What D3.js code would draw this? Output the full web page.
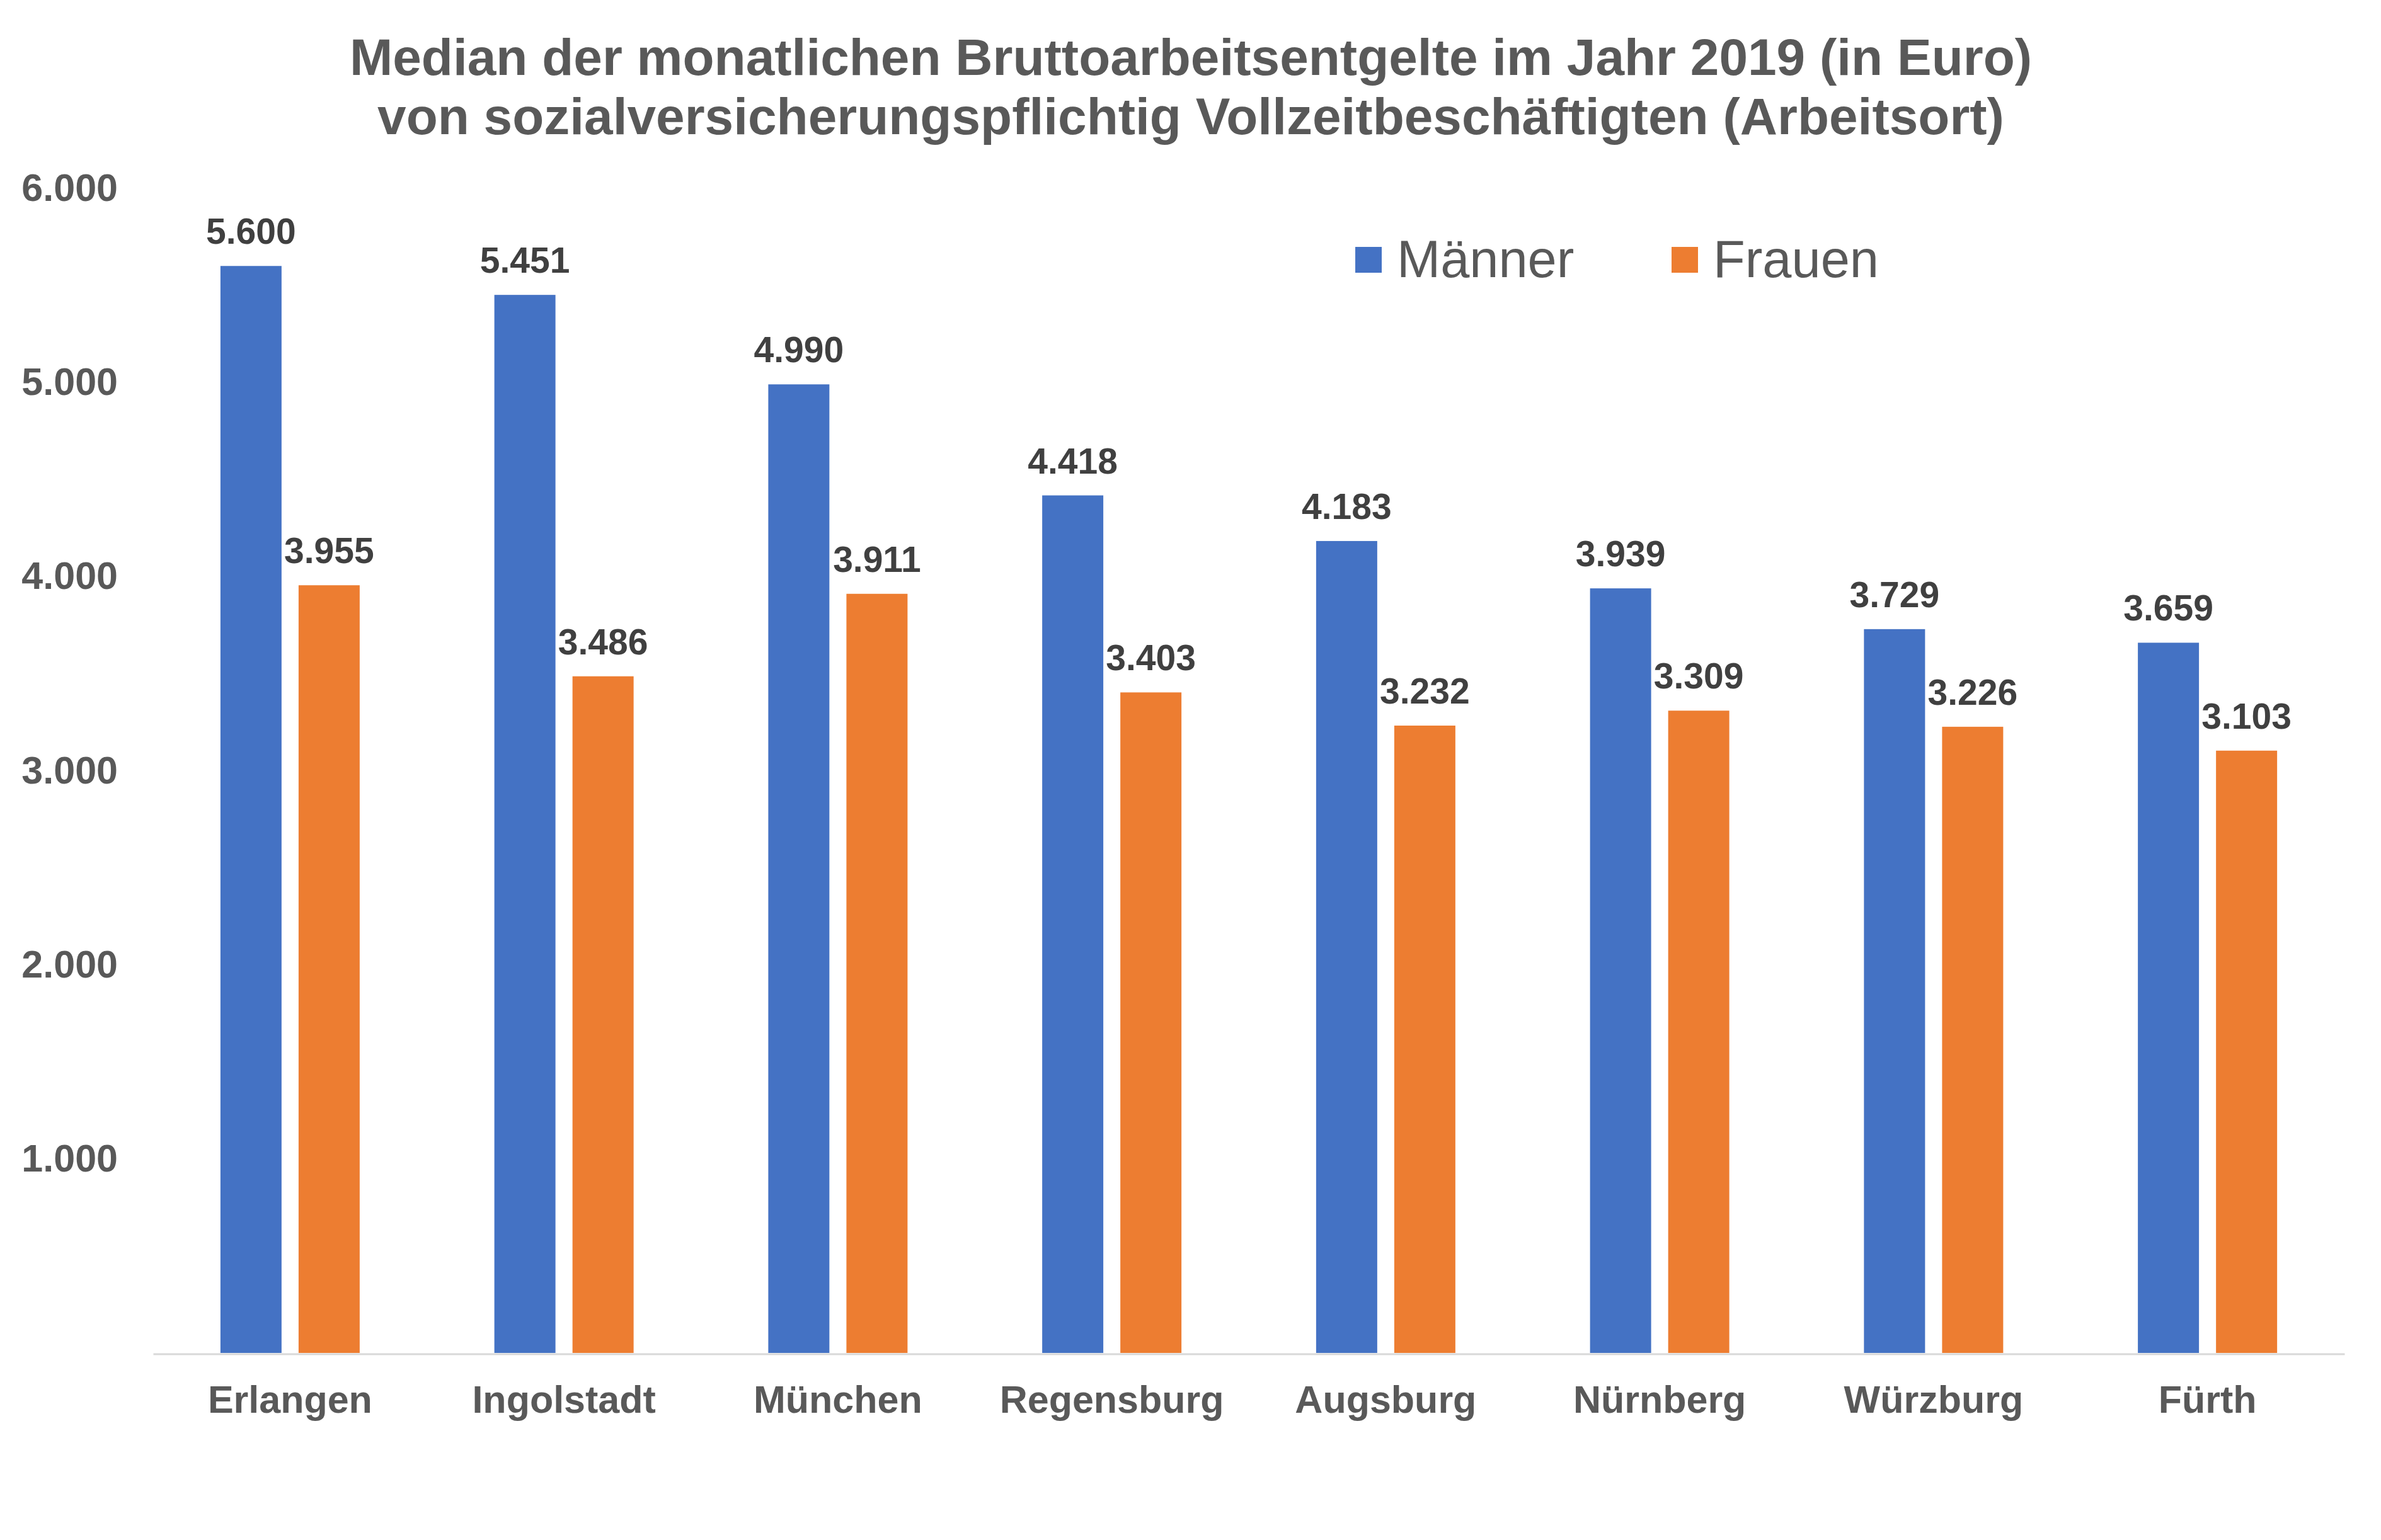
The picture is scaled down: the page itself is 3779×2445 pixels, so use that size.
<!DOCTYPE html>
<html>
<head>
<meta charset="utf-8">
<script src="https://cdn.jsdelivr.net/npm/d3@7"></script>
<style>
  body { margin: 0; background: #fff; }
  text { font-family: "Liberation Sans", Arial, sans-serif; }
</style>
</head>
<body>
<div id="chart"></div>
<script>
// Data
const cities = ['Erlangen', 'Ingolstadt', 'München', 'Regensburg', 'Augsburg', 'Nürnberg', 'Würzburg', 'Fürth'];
const maenner = [5600, 5451, 4990, 4418, 4183, 3939, 3729, 3659];
const frauen = [3955, 3486, 3911, 3403, 3232, 3309, 3226, 3103];
const seriesNames = ['Männer', 'Frauen'];
const yTicks = [1000, 2000, 3000, 4000, 5000, 6000];
const titleLines = [
  'Median der monatlichen Bruttoarbeitsentgelte im Jahr 2019 (in Euro)',
  'von sozialversicherungspflichtig Vollzeitbeschäftigten (Arbeitsort)'
];

const width = 3779;
const height = 2445;
const colors = ['#4472C4', '#ED7D31'];
const textGrey = '#595959';

// German number format: 5.600
const de = d3.formatLocale({ decimal: ',', thousands: '.', grouping: [3], currency: ['', ' €'] });
const fmt = de.format(',d');

const svg = d3.select('#chart')
  .append('svg')
  .attr('width', width)
  .attr('height', height);

// scales
const x0 = d3.scaleBand().domain(cities).range([243, 3721]).padding(0);
const groupW = 221;
const x1 = d3.scaleBand().domain(seriesNames).range([0, groupW]).paddingInner(0.218).paddingOuter(0);
const y = d3.scaleLinear().domain([0, 6000]).range([2148, 299]);

// title
svg.append('g')
  .selectAll('text')
  .data(titleLines)
  .join('text')
  .attr('x', 1890)
  .attr('y', (d, i) => 119 + i * 94)
  .attr('text-anchor', 'middle')
  .attr('font-size', 82)
  .attr('font-weight', 'bold')
  .attr('fill', textGrey)
  .text(d => d);

// y axis (labels only)
const yAxis = svg.append('g')
  .attr('transform', 'translate(243,0)')
  .call(d3.axisLeft(y).tickValues(yTicks).tickFormat(fmt).tickSize(0).tickPadding(56));
yAxis.select('.domain').remove();
yAxis.selectAll('text')
  .attr('font-size', 61)
  .attr('font-weight', 'bold')
  .attr('fill', textGrey)
  .attr('font-family', '"Liberation Sans", Arial, sans-serif');

// bars
const rows = cities.map((c, i) => ({ city: c, values: [maenner[i], frauen[i]] }));
const groups = svg.append('g')
  .selectAll('g')
  .data(rows)
  .join('g')
  .attr('transform', d => `translate(${x0(d.city) + (x0.bandwidth() - groupW) / 2},0)`);

groups.selectAll('rect')
  .data(d => d.values.map((v, k) => ({ key: seriesNames[k], value: v, k: k })))
  .join('rect')
  .attr('x', d => x1(d.key))
  .attr('y', d => y(d.value))
  .attr('width', x1.bandwidth())
  .attr('height', d => y(0) - y(d.value))
  .attr('fill', d => colors[d.k]);

// data labels
groups.selectAll('text')
  .data(d => d.values.map((v, k) => ({ key: seriesNames[k], value: v })))
  .join('text')
  .attr('x', d => x1(d.key) + x1.bandwidth() / 2)
  .attr('y', d => y(d.value) - 35)
  .attr('text-anchor', 'middle')
  .attr('font-size', 57)
  .attr('font-weight', 'bold')
  .attr('fill', '#404040')
  .text(d => fmt(d.value));

// x axis
const xAxis = svg.append('g')
  .attr('transform', 'translate(0,2149.5)')
  .call(d3.axisBottom(x0).tickSize(0).tickSizeOuter(0).tickPadding(50));
xAxis.select('.domain')
  .attr('stroke', '#d9d9d9')
  .attr('stroke-width', 3);
xAxis.selectAll('text')
  .attr('font-size', 61)
  .attr('font-weight', 'bold')
  .attr('fill', textGrey)
  .attr('font-family', '"Liberation Sans", Arial, sans-serif');

// legend
const legend = svg.append('g')
  .selectAll('g')
  .data(seriesNames)
  .join('g')
  .attr('transform', (d, i) => `translate(${2151 + i * 502},0)`);

legend.append('rect')
  .attr('x', 0)
  .attr('y', 392)
  .attr('width', 42)
  .attr('height', 41)
  .attr('fill', (d, i) => colors[i]);

legend.append('text')
  .attr('x', 66)
  .attr('y', 440)
  .attr('font-size', 83)
  .attr('fill', textGrey)
  .text(d => d);
</script>
</body>
</html>
